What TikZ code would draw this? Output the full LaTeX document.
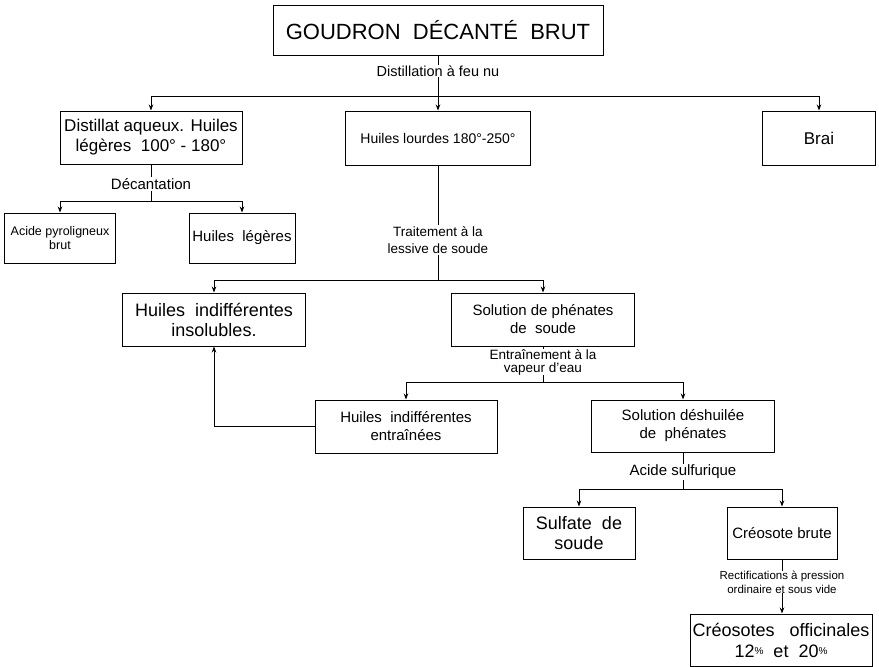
\documentclass[tikz,border=0pt]{standalone}
\usepackage{fontspec}
\setmainfont{Liberation Sans}
\usetikzlibrary{arrows.meta}
\begin{document}
\begin{tikzpicture}[x=1pt,y=-1pt,
  box/.style={draw, line width=1pt, align=center, inner sep=0pt},
  arr/.style={line width=0.8pt, -{Stealth[length=6pt,width=4.5pt]}},
  ln/.style={line width=0.8pt},
  lbl/.style={fill=white, inner sep=1pt, align=center}]
\useasboundingbox (0,0) rectangle (879,667);
% boxes
\node[box, minimum width=330pt, minimum height=50pt, font=\fontsize{22}{26}\selectfont] (top) at (438,30) {GOUDRON\ \ DÉCANTÉ\ \ BRUT};
\node[box, minimum width=182pt, minimum height=53pt, font=\fontsize{17}{20}\selectfont] (dist) at (151,137.5) {Distillat aqueux. Huiles\\légères\ \ 100° - 180°};
\node[box, minimum width=185pt, minimum height=54pt, font=\fontsize{14}{17}\selectfont] (lourd) at (438,138) {Huiles lourdes 180°-250°};
\node[box, minimum width=113pt, minimum height=54pt, font=\fontsize{17}{19}\selectfont] (brai) at (819,138) {Brai};
\node[box, minimum width=111pt, minimum height=50pt, font=\fontsize{12.5}{13.5}\selectfont] (acide) at (60,238) {Acide\ pyroligneux\\brut};
\node[box, minimum width=106pt, minimum height=50pt, font=\fontsize{15}{18}\selectfont] (leg) at (242,238) {Huiles\ \ légères};
\node[box, minimum width=183pt, minimum height=53pt, font=\fontsize{18}{20}\selectfont] (insol) at (214,319.5) {Huiles\ \ indifférentes\\insolubles.};
\node[box, minimum width=183pt, minimum height=53pt, font=\fontsize{15}{18}\selectfont] (phen) at (543,319.5) {Solution de phénates\\de\ \ soude};
\node[box, minimum width=182pt, minimum height=53pt, font=\fontsize{15}{18}\selectfont] (entr) at (406,426.5) {Huiles\ \ indifférentes\\entraînées};
\node[box, minimum width=183pt, minimum height=52pt, font=\fontsize{15}{18}\selectfont] (desh) at (683,426) {Solution déshuilée\\de\ \ phénates};
\node[box, minimum width=112pt, minimum height=52pt, font=\fontsize{18}{20}\selectfont] (sulf) at (579,533) {Sulfate\ \ de\\soude};
\node[box, minimum width=110pt, minimum height=52pt, font=\fontsize{15}{18}\selectfont] (creo) at (782,533) {Créosote brute};
\node[box, minimum width=182pt, minimum height=52pt, font=\fontsize{18}{21}\selectfont] (offi) at (781,640) {Créosotes\ \ \ officinales\\12\raisebox{0.25ex}{\fontsize{10}{10}\selectfont\%}\ \ et\ \ 20\raisebox{0.25ex}{\fontsize{10}{10}\selectfont\%}};
% junctions
\coordinate (j1) at (438,96);
\coordinate (j2) at (151,201);
\coordinate (j3) at (438,280);
\coordinate (j4) at (543,382);
\coordinate (j5) at (683,489);
% connectors
\draw[ln] (top.south) -- (j1);
\draw[arr] (j1) -| (dist.north);
\draw[arr] (j1) -- (lourd.north);
\draw[arr] (j1) -| (brai.north);
\draw[ln] (dist.south) -- (j2);
\draw[arr] (j2) -| (acide.north);
\draw[arr] (j2) -| (leg.north);
\draw[ln] (lourd.south) -- (j3);
\draw[arr] (j3) -| (insol.north);
\draw[arr] (j3) -| (phen.north);
\draw[ln] (phen.south) -- (j4);
\draw[arr] (j4) -| (entr.north);
\draw[arr] (j4) -| (desh.north);
\draw[arr] (entr.west) -| (insol.south);
\draw[ln] (desh.south) -- (j5);
\draw[arr] (j5) -| (sulf.north);
\draw[arr] (j5) -| (creo.north);
\draw[arr] (creo.south) -- (creo.south |- offi.north);
% labels
\node[lbl, font=\fontsize{14.5}{16}\selectfont] (l1) at (438,71) {Distillation à feu nu};
\node[lbl, font=\fontsize{15}{17}\selectfont] (l2) at (151,184) {Décantation};
\node[lbl, font=\fontsize{13.5}{17}\selectfont] (l3) at (438,240) {Traitement à la\\lessive de soude};
\node[lbl, font=\fontsize{13.5}{13}\selectfont, inner sep=0pt] (l4) at (543,362) {Entraînement à la\\vapeur d'eau};
\node[lbl, font=\fontsize{15}{17}\selectfont] (l5) at (683,472) {Acide sulfurique};
\node[lbl, font=\fontsize{11.5}{14}\selectfont, inner sep=0pt] (l6) at (782,582) {Rectifications à pression\\ordinaire et sous vide};
\end{tikzpicture}
\end{document}
